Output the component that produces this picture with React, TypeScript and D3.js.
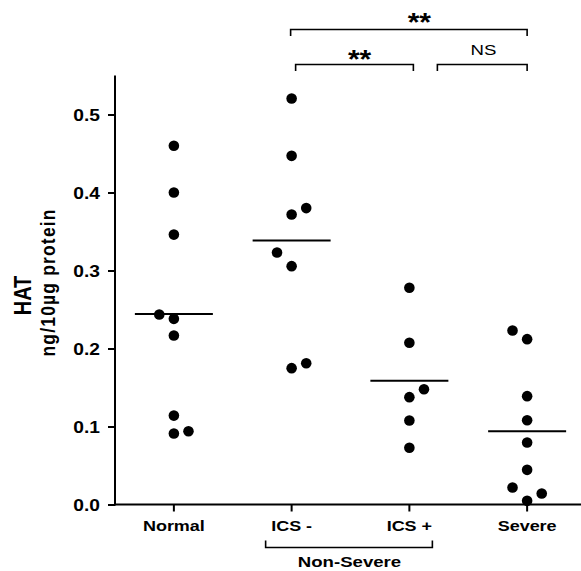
import React, { useEffect, useRef } from 'react';
import * as d3 from 'd3';

const categories = ['Normal', 'ICS -', 'ICS +', 'Severe'];
const yTicks = [0, 0.1, 0.2, 0.3, 0.4, 0.5];

const normalValues = [0.46, 0.4, 0.346, 0.2436, 0.238, 0.2167, 0.114, 0.091, 0.094];
const normalSlots = [0, 0, 0, -1, 0, 0, 0, 0, 1];
const icsMinusValues = [0.5205, 0.447, 0.3718, 0.38, 0.323, 0.3056, 0.1748, 0.181];
const icsMinusSlots = [0, 0, 0, 1, -1, 0, 0, 1];
const icsPlusValues = [0.2778, 0.2073, 0.1478, 0.1376, 0.1077, 0.0727];
const icsPlusSlots = [0, 0, 1, 0, 0, 0];
const severeValues = [0.223, 0.212, 0.1389, 0.108, 0.0795, 0.0444, 0.0218, 0.0141, 0.0047];
const severeSlots = [-1, 0, 0, 0, 0, 0, -1, 1, 0];
const medians = [0.2442, 0.3385, 0.1586, 0.094];

const groups = [
  { name: 'Normal', values: normalValues, slots: normalSlots },
  { name: 'ICS -', values: icsMinusValues, slots: icsMinusSlots },
  { name: 'ICS +', values: icsPlusValues, slots: icsPlusSlots },
  { name: 'Severe', values: severeValues, slots: severeSlots },
];

const W = 581;
const H = 571;
const FONT = '"Liberation Sans", Arial, Helvetica, sans-serif';
const SX = 1.2; // the original text is stretched horizontally

export default function App() {
  const yAxisRef = useRef<SVGGElement>(null);
  const xAxisRef = useRef<SVGGElement>(null);

  const x = d3.scaleBand<string>().domain(categories).range([115, 586]).padding(0);
  const y = d3.scaleLinear().domain([0, 0.55]).range([504.5, 75.5]);
  const cx = (c: string) => (x(c) || 0) + x.bandwidth() / 2;
  const slotW = 14.6;

  useEffect(() => {
    if (!yAxisRef.current || !xAxisRef.current) return;

    const ya = d3.select(yAxisRef.current);
    ya.selectAll('*').remove();
    ya.call(d3.axisLeft(y).tickValues(yTicks).tickSize(7).tickFormat(d3.format('.1f')) as any);
    ya.select('.domain').remove();
    ya.selectAll('.tick line').attr('stroke', '#000').attr('stroke-width', 2);
    ya.selectAll('.tick text')
      .attr('x', -15 / SX)
      .attr('dy', '0.36em')
      .attr('transform', `scale(${SX},1)`)
      .style('font-family', FONT)
      .style('font-weight', 'bold')
      .style('font-size', '16px')
      .attr('fill', '#000');

    const xa = d3.select(xAxisRef.current);
    xa.selectAll('*').remove();
    xa.call(d3.axisBottom(x).tickSize(7).tickSizeOuter(0) as any);
    xa.select('.domain').remove();
    xa.selectAll('.tick line').attr('stroke', '#000').attr('stroke-width', 2);
    xa.selectAll('.tick text')
      .attr('y', 27)
      .attr('dy', 0)
      .attr('transform', `scale(${SX},1)`)
      .style('font-family', FONT)
      .style('font-weight', 'bold')
      .style('font-size', '15px')
      .attr('fill', '#000');
  }, []);

  const bracket = (x1: number, x2: number, yy: number, drop: number) =>
    `M${x1},${yy + drop}V${yy}H${x2}V${yy + drop}`;

  const icsM = cx('ICS -');
  const icsP = cx('ICS +');
  const sev = cx('Severe');

  return (
    <svg width={W} height={H} style={{ position: 'absolute', left: 0, top: 0, background: '#fff' }}>
      <rect width={W} height={H} fill="#fff" />

      {/* axes */}
      <g ref={yAxisRef} transform="translate(115,0)" />
      <g ref={xAxisRef} transform="translate(0,504.5)" />
      <line x1={115} x2={115} y1={y(0.55)} y2={y(0) + 1} stroke="#000" strokeWidth={2} />
      <line x1={114} x2={W} y1={y(0)} y2={y(0)} stroke="#000" strokeWidth={2} />

      {/* y label */}
      <text
        transform={`translate(31,295.5) scale(${SX},1) rotate(-90)`}
        textAnchor="middle"
        style={{ fontFamily: FONT, fontWeight: 'bold', fontSize: '20px' }}
      >
        HAT
      </text>
      <text
        transform={`translate(55,283) scale(${SX},1) rotate(-90)`}
        textAnchor="middle"
        textLength={147}
        lengthAdjust="spacing"
        style={{ fontFamily: FONT, fontWeight: 'bold', fontSize: '17.5px' }}
      >
        ng/10µg protein
      </text>

      {/* points */}
      {groups.map((g) => (
        <g key={g.name}>
          {g.values.map((v, i) => (
            <circle key={i} cx={cx(g.name) + g.slots[i] * slotW} cy={y(v)} r={5.3} fill="#000" />
          ))}
        </g>
      ))}

      {/* medians */}
      {categories.map((c, i) => (
        <line key={c} x1={cx(c) - 39} x2={cx(c) + 39} y1={y(medians[i])} y2={y(medians[i])} stroke="#000" strokeWidth={2} />
      ))}

      {/* significance brackets */}
      <g fill="none" stroke="#000" strokeWidth={1.6}>
        <path d={bracket(icsM - 1, sev, 29.5, 6.5)} />
        <path d={bracket(icsM + 4, icsP + 4, 64.5, 6.5)} />
        <path d={bracket(icsP + 28, sev, 64.5, 6.5)} />
        <path d={bracket(icsM - 26, icsP + 23, 547.5, -7)} />
      </g>
      <text
        transform={`translate(${icsP + 10},31) scale(${SX},1)`}
        textAnchor="middle"
        style={{ fontFamily: FONT, fontWeight: 'bold', fontSize: '25px' }}
      >
        **
      </text>
      <text
        transform={`translate(${icsM + 68},67.5) scale(${SX},1)`}
        textAnchor="middle"
        style={{ fontFamily: FONT, fontWeight: 'bold', fontSize: '25px' }}
      >
        **
      </text>
      <text
        transform={`translate(${icsP + 74},55) scale(${SX},1)`}
        textAnchor="middle"
        style={{ fontFamily: FONT, fontSize: '15.5px' }}
      >
        NS
      </text>
      <text
        transform={`translate(349.5,567) scale(${SX},1)`}
        textAnchor="middle"
        style={{ fontFamily: FONT, fontWeight: 'bold', fontSize: '15.5px' }}
      >
        Non-Severe
      </text>
    </svg>
  );
}
